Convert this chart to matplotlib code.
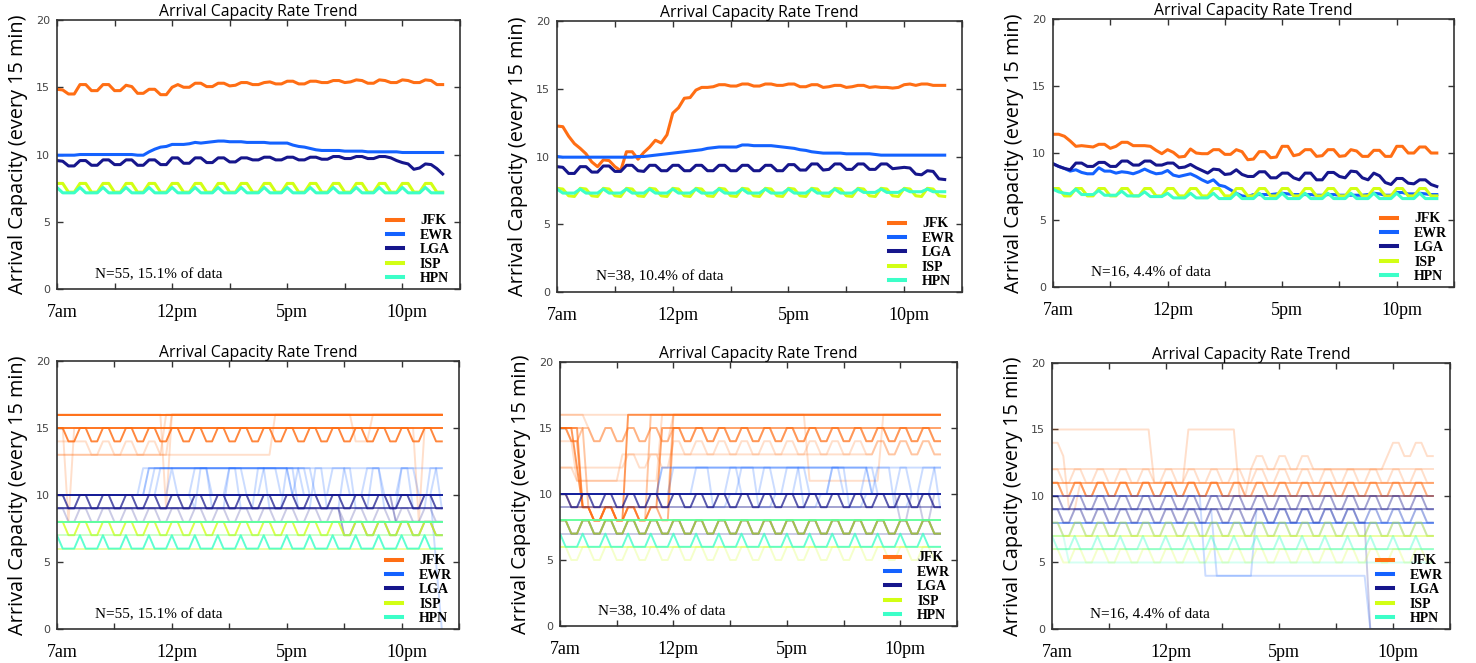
import numpy as np
import matplotlib
matplotlib.use("Agg")
import matplotlib.pyplot as plt
from matplotlib.lines import Line2D
from matplotlib.transforms import ScaledTranslation

# x axis: 15-minute slots from 7am (slot 0) to 11:45pm (slot 67)
xtick_labels = ["7am", "", "12pm", "", "5pm", "", "10pm", ""]
airports = ["JFK", "EWR", "LGA", "ISP", "HPN"]
colors = ["#ff6e14", "#1462ff", "#16168c", "#d2ff14", "#3cffc8"]
notes = ["N=55, 15.1% of data", "N=38, 10.4% of data", "N=16, 4.4% of data"]
title = "Arrival Capacity Rate Trend"
ylabel = "Arrival Capacity (every 15 min)"

# ---- top row: mean capacity per slot ----
jfk_55 = [14.85, 14.80, 14.50, 14.50, 15.20, 15.20, 14.75, 14.75,
          15.20, 15.20, 14.75, 14.75, 15.15, 15.05, 14.55, 14.55,
          14.85, 14.85, 14.45, 14.45, 15.00, 15.20, 15.00, 15.00,
          15.30, 15.30, 15.05, 15.05, 15.30, 15.30, 15.10, 15.15,
          15.35, 15.35, 15.20, 15.20, 15.35, 15.40, 15.25, 15.25,
          15.45, 15.45, 15.25, 15.25, 15.45, 15.45, 15.35, 15.35,
          15.50, 15.50, 15.35, 15.40, 15.55, 15.50, 15.30, 15.30,
          15.55, 15.50, 15.35, 15.35, 15.55, 15.50, 15.35, 15.35,
          15.55, 15.50, 15.20, 15.20]
ewr_55 = [9.95, 9.95, 9.95, 9.95, 10.0, 10.0, 10.0, 10.0,
          10.0, 10.0, 10.0, 10.0, 10.0, 10.0, 9.95, 9.95,
          10.2, 10.4, 10.55, 10.6, 10.75, 10.75, 10.75, 10.8,
          10.9, 10.85, 10.9, 10.95, 11.0, 11.0, 10.95, 10.95,
          10.95, 10.9, 10.9, 10.9, 10.9, 10.85, 10.85, 10.85,
          10.85, 10.7, 10.6, 10.55, 10.45, 10.35, 10.3, 10.3,
          10.3, 10.3, 10.25, 10.25, 10.25, 10.25, 10.2, 10.2,
          10.2, 10.2, 10.2, 10.2, 10.15, 10.15, 10.15, 10.15,
          10.15, 10.15, 10.15, 10.15]
lga_55 = [9.55, 9.5, 9.15, 9.15, 9.55, 9.55, 9.2, 9.2,
          9.6, 9.6, 9.25, 9.25, 9.6, 9.6, 9.2, 9.2,
          9.6, 9.6, 9.25, 9.25, 9.75, 9.75, 9.35, 9.35,
          9.75, 9.75, 9.4, 9.4, 9.75, 9.75, 9.45, 9.45,
          9.75, 9.75, 9.6, 9.6, 9.8, 9.8, 9.6, 9.6,
          9.8, 9.8, 9.6, 9.6, 9.8, 9.8, 9.65, 9.65,
          9.85, 9.85, 9.7, 9.7, 9.85, 9.85, 9.7, 9.7,
          9.85, 9.85, 9.75, 9.55, 9.4, 9.3, 8.9, 9.0,
          9.3, 9.25, 8.95, 8.55]
isp_55 = [7.85, 7.85, 7.2, 7.2, 7.85, 7.85, 7.2, 7.2,
          7.85, 7.85, 7.2, 7.2, 7.85, 7.85, 7.2, 7.2,
          7.85, 7.85, 7.2, 7.2, 7.85, 7.85, 7.2, 7.2,
          7.85, 7.85, 7.2, 7.2, 7.85, 7.85, 7.2, 7.2,
          7.85, 7.85, 7.2, 7.2, 7.85, 7.85, 7.2, 7.2,
          7.85, 7.85, 7.2, 7.2, 7.85, 7.85, 7.2, 7.2,
          7.85, 7.85, 7.2, 7.2, 7.85, 7.85, 7.2, 7.2,
          7.85, 7.85, 7.2, 7.2, 7.85, 7.85, 7.2, 7.2,
          7.85, 7.85, 7.2, 7.2]
hpn_55 = [7.55, 7.15, 7.15, 7.15, 7.55, 7.15, 7.15, 7.15,
          7.55, 7.15, 7.15, 7.15, 7.55, 7.15, 7.15, 7.15,
          7.55, 7.15, 7.15, 7.15, 7.55, 7.15, 7.15, 7.15,
          7.55, 7.15, 7.15, 7.15, 7.55, 7.15, 7.15, 7.15,
          7.55, 7.15, 7.15, 7.15, 7.55, 7.15, 7.15, 7.15,
          7.55, 7.15, 7.15, 7.15, 7.55, 7.15, 7.15, 7.15,
          7.55, 7.15, 7.15, 7.15, 7.55, 7.15, 7.15, 7.15,
          7.55, 7.15, 7.15, 7.15, 7.55, 7.15, 7.15, 7.15,
          7.55, 7.15, 7.15, 7.15]

jfk_38 = [12.25, 12.2, 11.5, 10.95, 10.6, 10.2, 9.6, 9.25,
          9.75, 9.7, 9.25, 8.95, 10.35, 10.35, 9.8, 10.3,
          10.7, 11.2, 11.0, 11.6, 13.2, 13.6, 14.3, 14.35,
          14.9, 15.1, 15.1, 15.15, 15.3, 15.3, 15.2, 15.2,
          15.35, 15.35, 15.2, 15.2, 15.35, 15.35, 15.25, 15.25,
          15.35, 15.35, 15.15, 15.15, 15.3, 15.3, 15.1, 15.15,
          15.25, 15.25, 15.1, 15.15, 15.25, 15.25, 15.1, 15.15,
          15.1, 15.1, 15.05, 15.1, 15.3, 15.35, 15.25, 15.35,
          15.35, 15.25, 15.25, 15.25]
ewr_38 = [10.0, 9.95, 9.95, 9.95, 9.95, 9.95, 9.95, 9.95,
          9.95, 9.95, 9.95, 9.95, 9.95, 9.95, 10.0, 10.0,
          10.05, 10.1, 10.15, 10.2, 10.25, 10.3, 10.35, 10.4,
          10.45, 10.5, 10.6, 10.65, 10.7, 10.7, 10.7, 10.7,
          10.85, 10.85, 10.8, 10.8, 10.8, 10.8, 10.75, 10.7,
          10.65, 10.6, 10.5, 10.45, 10.35, 10.3, 10.25, 10.25,
          10.25, 10.25, 10.2, 10.2, 10.2, 10.2, 10.2, 10.15,
          10.1, 10.1, 10.1, 10.1, 10.1, 10.1, 10.1, 10.1,
          10.1, 10.1, 10.1, 10.1]
lga_38 = [9.25, 9.2, 8.75, 8.75, 9.25, 9.25, 8.85, 8.85,
          9.3, 9.3, 8.9, 8.9, 9.35, 9.35, 8.95, 8.9,
          9.35, 9.35, 8.95, 8.95, 9.35, 9.35, 8.95, 8.95,
          9.35, 9.35, 8.95, 8.95, 9.35, 9.35, 8.95, 8.95,
          9.35, 9.35, 8.95, 8.95, 9.35, 9.35, 8.95, 8.95,
          9.4, 9.4, 9.0, 9.0, 9.45, 9.45, 9.0, 9.05,
          9.45, 9.45, 9.05, 9.05, 9.45, 9.45, 9.05, 9.05,
          9.45, 9.45, 9.1, 9.15, 9.2, 9.15, 8.7, 8.65,
          8.95, 8.9, 8.35, 8.3]
isp_38 = [7.65, 7.6, 7.1, 7.05, 7.65, 7.6, 7.1, 7.05,
          7.65, 7.6, 7.1, 7.05, 7.65, 7.6, 7.1, 7.05,
          7.65, 7.6, 7.1, 7.05, 7.65, 7.6, 7.1, 7.05,
          7.65, 7.6, 7.1, 7.05, 7.65, 7.6, 7.1, 7.05,
          7.65, 7.6, 7.1, 7.05, 7.65, 7.6, 7.1, 7.05,
          7.65, 7.6, 7.1, 7.05, 7.65, 7.6, 7.1, 7.05,
          7.65, 7.6, 7.1, 7.05, 7.65, 7.6, 7.1, 7.05,
          7.65, 7.6, 7.1, 7.05, 7.65, 7.6, 7.1, 7.05,
          7.65, 7.6, 7.1, 7.05]
hpn_38 = [7.6, 7.3, 7.3, 7.3, 7.6, 7.3, 7.3, 7.3,
          7.6, 7.3, 7.3, 7.3, 7.6, 7.3, 7.3, 7.3,
          7.6, 7.3, 7.3, 7.3, 7.6, 7.3, 7.3, 7.3,
          7.6, 7.3, 7.3, 7.3, 7.6, 7.3, 7.3, 7.3,
          7.6, 7.3, 7.3, 7.3, 7.6, 7.3, 7.3, 7.3,
          7.6, 7.3, 7.3, 7.3, 7.6, 7.3, 7.3, 7.3,
          7.6, 7.3, 7.3, 7.3, 7.6, 7.35, 7.35, 7.35,
          7.6, 7.35, 7.35, 7.35, 7.6, 7.4, 7.4, 7.4,
          7.6, 7.4, 7.4, 7.4]

jfk_16 = [11.4, 11.4, 11.25, 10.9, 10.5, 10.55, 10.5, 10.45,
          10.65, 10.65, 10.35, 10.5, 10.8, 10.8, 10.55, 10.55,
          10.55, 10.5, 10.2, 9.95, 10.25, 10.05, 9.7, 9.75,
          10.3, 10.0, 9.95, 9.95, 10.25, 10.25, 9.9, 9.9,
          10.25, 10.1, 9.5, 9.55, 10.1, 10.1, 9.65, 9.7,
          10.5, 10.5, 9.8, 9.9, 10.25, 10.25, 9.75, 9.8,
          10.25, 10.25, 9.75, 9.8, 10.25, 10.15, 9.75, 9.75,
          10.2, 10.2, 9.75, 9.75, 10.5, 10.5, 10.0, 10.0,
          10.45, 10.45, 10.0, 10.0]
ewr_16 = [9.2, 9.0, 8.85, 8.65, 8.75, 8.55, 8.45, 8.45,
          8.9, 8.65, 8.65, 8.5, 8.6, 8.55, 8.45, 8.6,
          8.8, 8.6, 8.45, 8.5, 8.7, 8.35, 8.25, 8.35,
          8.45, 8.25, 8.0, 7.8, 8.0, 7.6, 7.5, 7.25,
          7.0, 6.8, 6.75, 6.9, 6.9, 6.9, 6.9, 6.95,
          7.0, 6.95, 6.9, 6.9, 6.9, 6.9, 6.85, 6.85,
          6.9, 6.9, 6.85, 6.85, 6.85, 6.85, 6.85, 6.9,
          7.0, 6.95, 6.85, 6.85, 7.05, 7.05, 6.95, 6.95,
          7.0, 6.95, 6.9, 6.9]
lga_16 = [9.2, 9.0, 8.85, 8.75, 9.25, 9.25, 9.0, 9.0,
          9.3, 9.3, 9.0, 9.0, 9.4, 9.4, 9.1, 9.1,
          9.4, 9.4, 9.1, 9.1, 9.25, 9.25, 8.9, 8.95,
          9.15, 8.9, 8.7, 8.5, 8.8, 8.75, 8.4, 8.45,
          8.75, 8.4, 8.25, 8.25, 8.6, 8.6, 8.15, 8.15,
          8.5, 8.5, 8.15, 8.0, 8.5, 8.5, 8.0, 8.0,
          8.55, 8.55, 8.25, 8.15, 8.65, 8.6, 8.15, 8.0,
          8.5, 8.3, 7.8, 7.65, 8.1, 8.1, 7.75, 7.7,
          8.0, 8.0, 7.65, 7.5]
isp_16 = [7.35, 7.35, 6.8, 6.8, 7.35, 7.35, 6.8, 6.8,
          7.35, 7.35, 6.8, 6.8, 7.35, 7.35, 6.8, 6.8,
          7.35, 7.35, 6.8, 6.8, 7.35, 7.35, 6.8, 6.8,
          7.35, 7.35, 6.8, 6.8, 7.35, 7.35, 6.8, 6.8,
          7.35, 7.35, 6.8, 6.8, 7.35, 7.35, 6.8, 6.8,
          7.35, 7.35, 6.8, 6.8, 7.35, 7.35, 6.8, 6.8,
          7.35, 7.35, 6.8, 6.8, 7.35, 7.35, 6.8, 6.8,
          7.35, 7.35, 6.8, 6.8, 7.35, 7.35, 6.8, 6.8,
          7.35, 7.35, 6.8, 6.8]
hpn_16 = [7.3, 7.1, 7.0, 6.95, 7.3, 6.9, 6.9, 6.9,
          7.2, 6.85, 6.85, 6.85, 7.15, 6.8, 6.8, 6.8,
          7.1, 6.75, 6.75, 6.75, 7.0, 6.65, 6.65, 6.65,
          7.0, 6.65, 6.65, 6.65, 7.0, 6.6, 6.6, 6.6,
          7.0, 6.6, 6.6, 6.6, 7.0, 6.6, 6.6, 6.6,
          7.0, 6.6, 6.6, 6.6, 7.0, 6.6, 6.6, 6.6,
          7.0, 6.6, 6.6, 6.6, 7.0, 6.6, 6.6, 6.6,
          7.0, 6.6, 6.6, 6.6, 7.0, 6.6, 6.6, 6.6,
          7.0, 6.6, 6.6, 6.6]

# ---- bottom row: individual day profiles ----
# (number of days, [(slots, quarter-hour pattern), ...]); pattern phase follows the clock
jfk_days_55 = [
    (14, [(68, [16])]),
    (9, [(68, [15])]),
    (7, [(68, [15, 15, 14, 14])]),
    (1, [(19, [13]), (49, [16])]),
    (1, [(38, [13]), (30, [16])]),
    (1, [(4, [14]), (16, [14, 14, 13, 13]), (48, [16])]),
    (1, [(2, [15]), (1, [8]), (65, [15])]),
    (1, [(19, [16]), (1, [9]), (48, [16])]),
    (1, [(52, [16]), (3, [14]), (13, [16])]),
    (1, [(63, [15]), (1, [8]), (4, [15])]),
]
ewr_days_55 = [
    (10, [(68, [10])]),
    (2, [(16, [10]), (25, [12]), (27, [10])]),
    (1, [(17, [10]), (26, [12]), (25, [10])]),
    (1, [(15, [10]), (29, [12]), (24, [10])]),
    (1, [(18, [10]), (50, [12])]),
    (1, [(20, [10]), (48, [12, 12, 12, 10, 10, 10])]),
    (1, [(24, [10]), (44, [12, 12, 9, 9, 9])]),
    (1, [(66, [10]), (1, [5]), (1, [0])]),
]
lga_days_55 = [
    (8, [(68, [10])]),
    (5, [(68, [10, 10, 9, 9])]),
    (4, [(68, [9])]),
    (2, [(59, [10]), (9, [8])]),
    (1, [(68, [9, 9, 8, 8])]),
    (2, [(50, [9]), (18, [8, 8, 7, 7])]),
]
isp_days_55 = [
    (10, [(68, [8])]),
    (6, [(68, [8, 8, 7, 7])]),
    (2, [(68, [6])]),
    (1, [(68, [7])]),
]
hpn_days_55 = [
    (7, [(68, [7, 6, 6, 6])]),
    (6, [(68, [8])]),
    (1, [(68, [7])]),
]

jfk_days_38 = [
    (5, [(3, [15]), (1, [12]), (8, [9, 9, 8, 8]), (56, [16])]),
    (4, [(4, [15]), (14, [9, 9, 8, 8]), (50, [15])]),
    (2, [(2, [10]), (18, [9]), (48, [16])]),
    (2, [(5, [15]), (11, [9, 9, 8, 8]), (52, [16])]),
    (2, [(68, [15, 15, 14, 14])]),
    (3, [(4, [15, 15, 14, 14]), (16, [9, 9, 8, 8]), (48, [15, 15, 14, 14])]),
    (1, [(10, [12]), (10, [13, 13, 12, 12]), (48, [14, 14, 13, 13])]),
    (1, [(5, [16]), (15, [15, 15, 14, 14]), (48, [16])]),
    (1, [(3, [14]), (8, [11]), (45, [13]), (12, [14, 14, 13, 13])]),
    (1, [(3, [12]), (15, [11]), (50, [16])]),
    (1, [(44, [16]), (13, [11]), (11, [16])]),
]
ewr_days_38 = [
    (8, [(68, [10])]),
    (2, [(18, [10]), (37, [12]), (13, [10])]),
    (1, [(20, [10]), (48, [12])]),
    (1, [(24, [10]), (44, [12, 12, 12, 9, 9, 9, 10, 10])]),
    (1, [(30, [10]), (38, [12, 12, 10, 10, 10, 10])]),
]
lga_days_38 = [
    (7, [(68, [10])]),
    (5, [(68, [10, 10, 9, 9])]),
    (2, [(68, [9])]),
    (1, [(58, [10]), (10, [8, 8, 10, 10])]),
    (5, [(68, [8, 8, 7, 7])]),
    (1, [(68, [7])]),
]
isp_days_38 = [
    (6, [(68, [8])]),
    (4, [(68, [8, 8, 7, 7])]),
    (2, [(68, [6])]),
    (1, [(68, [6, 6, 5, 5])]),
]
hpn_days_38 = [
    (6, [(68, [7, 6, 6, 6])]),
    (5, [(68, [8])]),
]

jfk_days_16 = [
    (3, [(68, [11])]),
    (2, [(31, [11, 11, 10, 10]), (37, [10])]),
    (2, [(68, [11, 11, 10, 10])]),
    (1, [(68, [12])]),
    (1, [(68, [12, 12, 11, 11])]),
    (1, [(18, [15]), (6, [11]), (9, [15]), (2, [10]), (13, [13, 13, 12, 12]),
         (11, [12]), (9, [14, 14, 13, 13])]),
    (1, [(2, [14]), (1, [13]), (2, [9]), (63, [11, 11, 10, 10])]),
]
ewr_days_16 = [
    (3, [(68, [8])]),
    (1, [(68, [8, 8, 7, 7])]),
    (1, [(27, [10]), (29, [4]), (12, [0])]),
    (1, [(29, [9]), (7, [4]), (32, [9, 9, 8, 8])]),
]
lga_days_16 = [
    (2, [(68, [10])]),
    (2, [(68, [9])]),
    (2, [(68, [10, 10, 9, 9])]),
    (1, [(68, [9, 9, 8, 8])]),
    (1, [(56, [9, 9, 8, 8]), (12, [0])]),
]
isp_days_16 = [
    (2, [(68, [7])]),
    (2, [(68, [8, 8, 7, 7])]),
    (1, [(68, [6])]),
    (1, [(68, [6, 6, 5, 5])]),
]
hpn_days_16 = [
    (2, [(68, [7, 6, 6, 6])]),
    (1, [(68, [6])]),
    (1, [(3, [7]), (65, [5])]),
]

mean_panels = [
    [jfk_55, ewr_55, lga_55, isp_55, hpn_55],
    [jfk_38, ewr_38, lga_38, isp_38, hpn_38],
    [jfk_16, ewr_16, lga_16, isp_16, hpn_16],
]
day_panels = [
    [jfk_days_55, ewr_days_55, lga_days_55, isp_days_55, hpn_days_55],
    [jfk_days_38, ewr_days_38, lga_days_38, isp_days_38, hpn_days_38],
    [jfk_days_16, ewr_days_16, lga_days_16, isp_days_16, hpn_days_16],
]

# axes rectangles in figure fraction (left, bottom, width, height)
top_rects = [(0.0386, 0.5641, 0.2730, 0.4057),
             (0.3774, 0.5596, 0.2744, 0.4087),
             (0.7134, 0.5671, 0.2717, 0.4042)]
bottom_rects = [(0.0386, 0.0513, 0.2724, 0.4042),
                (0.3794, 0.0558, 0.2690, 0.3982),
                (0.7127, 0.0513, 0.2696, 0.4012)]

DAY_ALPHA = 0.22


def expand(segments):
    vals, i = [], 0
    for n, pattern in segments:
        for _ in range(n):
            vals.append(pattern[i % len(pattern)])
            i += 1
    return vals


def style_axes(fig, ax, note):
    ax.set_xlim(0, 70)
    ax.set_ylim(0, 20)
    ax.set_xticks(range(0, 71, 10))
    ax.set_xticklabels(xtick_labels)
    ax.set_yticks(range(0, 21, 5))
    ax.tick_params(direction="in", top=True, right=True, length=4, width=1,
                   color="#333333")
    ax.tick_params(axis="y", labelsize=8, labelcolor="#444444", pad=5)
    ax.tick_params(axis="x", labelsize=13, labelfontfamily="Liberation Serif",
                   labelcolor="black", pad=11)
    shift = ScaledTranslation(0.05, 0, fig.dpi_scale_trans)
    for lab in ax.get_xticklabels():
        lab.set_transform(lab.get_transform() + shift)
    for sp in ax.spines.values():
        sp.set_color("#333333")
        sp.set_linewidth(1.2)
    ax.set_title(title, fontsize=11.3, family="Open Sans", pad=3)
    ax.set_ylabel(ylabel, fontsize=14.3, family="Open Sans")
    ax.yaxis.set_label_coords(-0.072, 0.5)
    ax.text(0.095, 0.042, note, transform=ax.transAxes,
            family="Liberation Serif", fontsize=11)
    handles = [Line2D([], [], color=c, lw=2.9) for c in colors]
    ax.legend(handles, airports, loc="lower right", bbox_to_anchor=(0.983, 0.015),
              frameon=False,
              prop={"family": "Liberation Serif", "size": 10, "weight": "bold"},
              handlelength=1.1, handletextpad=1.25, labelspacing=0.1,
              borderpad=0, borderaxespad=0)


def main():
    fig = plt.figure(figsize=(14.76, 6.63), dpi=100)
    x = np.arange(68)

    for rect, series, note in zip(top_rects, mean_panels, notes):
        ax = fig.add_axes(rect)
        for vals, c in zip(series, colors):
            ax.plot(x, vals, color=c, lw=2.2)
        style_axes(fig, ax, note)

    for rect, groups, note in zip(bottom_rects, day_panels, notes):
        ax = fig.add_axes(rect)
        for profiles, c in zip(groups, colors):
            for days, segments in profiles:
                alpha = 1 - (1 - DAY_ALPHA) ** days
                ax.plot(x, expand(segments), color=c, lw=1.4, alpha=alpha)
        style_axes(fig, ax, note)

    fig.savefig("out.png", dpi=100, facecolor="white")


if __name__ == "__main__":
    main()
